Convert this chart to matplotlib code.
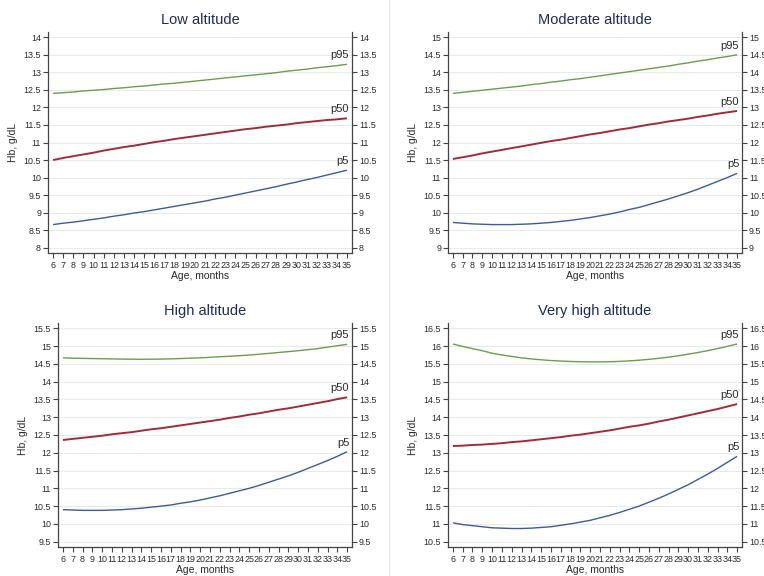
import matplotlib
matplotlib.use("Agg")
import matplotlib.pyplot as plt
from matplotlib.lines import Line2D

plt.rcParams['font.family'] = ['Liberation Sans', 'DejaVu Sans']

ages = list(range(6, 36))

titles = ["Low altitude", "Moderate altitude", "High altitude", "Very high altitude"]

low_p5 = [8.66, 8.70, 8.73, 8.77, 8.81, 8.85, 8.90, 8.94, 8.99, 9.03, 9.08, 9.13, 9.18, 9.23, 9.28,
          9.33, 9.39, 9.44, 9.50, 9.56, 9.62, 9.68, 9.74, 9.81, 9.87, 9.94, 10.00, 10.07, 10.14, 10.21]
low_p50 = [10.50, 10.56, 10.61, 10.66, 10.71, 10.77, 10.82, 10.87, 10.91, 10.96, 11.01, 11.05, 11.10, 11.14, 11.18,
           11.22, 11.26, 11.30, 11.34, 11.38, 11.41, 11.45, 11.48, 11.51, 11.55, 11.58, 11.61, 11.64, 11.66, 11.69]
low_p95 = [12.40, 12.42, 12.44, 12.47, 12.49, 12.51, 12.54, 12.56, 12.59, 12.61, 12.64, 12.67, 12.69, 12.72, 12.75,
           12.78, 12.81, 12.84, 12.87, 12.90, 12.93, 12.96, 12.99, 13.03, 13.06, 13.09, 13.13, 13.16, 13.19, 13.23]

mod_p5 = [9.72, 9.70, 9.68, 9.67, 9.66, 9.66, 9.66, 9.67, 9.68, 9.70, 9.72, 9.75, 9.78, 9.82, 9.86,
          9.91, 9.96, 10.02, 10.09, 10.15, 10.23, 10.31, 10.39, 10.48, 10.57, 10.67, 10.78, 10.89, 11.00, 11.12]
mod_p50 = [11.53, 11.58, 11.63, 11.69, 11.74, 11.79, 11.84, 11.89, 11.94, 11.99, 12.04, 12.08, 12.13, 12.18, 12.23,
           12.27, 12.32, 12.37, 12.41, 12.46, 12.51, 12.55, 12.60, 12.64, 12.68, 12.73, 12.77, 12.82, 12.86, 12.90]
mod_p95 = [13.40, 13.43, 13.46, 13.49, 13.52, 13.55, 13.58, 13.61, 13.65, 13.68, 13.72, 13.75, 13.79, 13.82, 13.86,
           13.90, 13.94, 13.98, 14.02, 14.06, 14.10, 14.14, 14.18, 14.23, 14.27, 14.32, 14.36, 14.41, 14.45, 14.50]

high_p5 = [10.40, 10.39, 10.38, 10.38, 10.38, 10.39, 10.40, 10.42, 10.44, 10.47, 10.50, 10.53, 10.58, 10.62, 10.67,
           10.73, 10.79, 10.86, 10.93, 11.00, 11.08, 11.17, 11.26, 11.35, 11.45, 11.56, 11.67, 11.78, 11.90, 12.03]
high_p50 = [12.36, 12.39, 12.42, 12.45, 12.48, 12.52, 12.55, 12.58, 12.62, 12.66, 12.69, 12.73, 12.77, 12.81, 12.85,
            12.89, 12.93, 12.98, 13.02, 13.07, 13.11, 13.16, 13.21, 13.25, 13.30, 13.35, 13.40, 13.45, 13.51, 13.56]
high_p95 = [14.67, 14.66, 14.655, 14.65, 14.645, 14.64, 14.635, 14.632, 14.63, 14.632, 14.635, 14.642, 14.65, 14.66, 14.67,
            14.685, 14.70, 14.715, 14.73, 14.75, 14.77, 14.795, 14.82, 14.845, 14.87, 14.90, 14.93, 14.97, 15.01, 15.05]

vhigh_p5 = [11.03, 10.98, 10.95, 10.92, 10.89, 10.88, 10.87, 10.87, 10.88, 10.90, 10.92, 10.96, 11.00, 11.05, 11.10,
            11.17, 11.24, 11.32, 11.41, 11.50, 11.61, 11.72, 11.84, 11.97, 12.10, 12.25, 12.40, 12.56, 12.73, 12.90]
vhigh_p50 = [13.19, 13.20, 13.22, 13.23, 13.25, 13.27, 13.30, 13.32, 13.35, 13.38, 13.41, 13.44, 13.48, 13.51, 13.55,
             13.59, 13.63, 13.68, 13.73, 13.77, 13.82, 13.88, 13.93, 13.99, 14.05, 14.11, 14.17, 14.23, 14.30, 14.37]
vhigh_p95 = [16.06, 15.99, 15.93, 15.87, 15.80, 15.75, 15.71, 15.67, 15.64, 15.615, 15.595, 15.58, 15.568, 15.56, 15.556,
             15.556, 15.56, 15.57, 15.584, 15.604, 15.628, 15.656, 15.69, 15.728, 15.772, 15.82, 15.872, 15.93, 15.992, 16.06]

p5_sets = [low_p5, mod_p5, high_p5, vhigh_p5]
p50_sets = [low_p50, mod_p50, high_p50, vhigh_p50]
p95_sets = [low_p95, mod_p95, high_p95, vhigh_p95]

ytick_lists = [
    [8, 8.5, 9, 9.5, 10, 10.5, 11, 11.5, 12, 12.5, 13, 13.5, 14],
    [9, 9.5, 10, 10.5, 11, 11.5, 12, 12.5, 13, 13.5, 14, 14.5, 15],
    [9.5, 10, 10.5, 11, 11.5, 12, 12.5, 13, 13.5, 14, 14.5, 15, 15.5],
    [10.5, 11, 11.5, 12, 12.5, 13, 13.5, 14, 14.5, 15, 15.5, 16, 16.5],
]

series_names = ["p5", "p50", "p95"]
colors = {"p5": "#3e5c94", "p50": "#a02c3a", "p95": "#6f9b50"}
widths = {"p5": 1.0, "p50": 1.4, "p95": 1.0}

W, H = 764, 576
fig = plt.figure(figsize=(W / 100, H / 100), dpi=100)

# faint separator between the left and right panels
fig.add_artist(Line2D([389 / W, 389 / W], [0, 1], transform=fig.transFigure, color='#e6e6e6', lw=0.8))

# pixel boxes (left, top, right, bottom)
boxes = [(48, 32, 352, 253), (448, 32, 742, 253), (58, 323, 352, 547), (448, 323, 742, 547)]

axis_col = "#444444"
text_col = "#2a2a2a"

def fmt(v):
    return ("%g" % v)

for i, (l, t, r, b) in enumerate(boxes):
    ax = fig.add_axes([l / W, 1 - b / H, (r - l) / W, (b - t) / H])
    yt = ytick_lists[i]
    data = {"p5": p5_sets[i], "p50": p50_sets[i], "p95": p95_sets[i]}
    for name in series_names:
        ax.plot(ages, data[name], color=colors[name], lw=widths[name], solid_capstyle='butt', zorder=3)
        ax.annotate(name, xy=(ages[-1], data[name][-1]), xytext=(1.5, 3), textcoords='offset points',
                    ha='right', va='bottom', fontsize=8, color=text_col)
    ax.set_xlim(5.5, 35.5)
    ax.set_ylim(yt[0] - 0.15, yt[-1] + 0.15)
    ax.set_xticks(ages)
    ax.set_xticklabels([str(a) for a in ages])
    ax.set_yticks(yt)
    ax.set_yticklabels([fmt(v) for v in yt])
    ax.grid(axis='y', color='#e4ebef', lw=0.7, zorder=0)
    ax.set_axisbelow(True)
    for s in ['left', 'right', 'bottom']:
        ax.spines[s].set_color(axis_col)
        ax.spines[s].set_linewidth(0.9)
    ax.spines['top'].set_visible(False)
    ax.tick_params(axis='y', which='both', left=True, right=True, labelleft=True, labelright=True,
                   direction='out', length=3.5, width=0.8, color=axis_col, labelsize=6.4,
                   labelcolor=text_col, pad=1.5)
    ax.tick_params(axis='x', direction='out', length=3.5, width=0.8, color=axis_col, labelsize=6.4,
                   labelcolor=text_col, pad=2)
    ax.set_xlabel("Age, months", fontsize=7.5, color=text_col, labelpad=1)
    ax.set_ylabel("Hb, g/dL", fontsize=7.5, color=text_col, labelpad=4)
    ax.set_title(titles[i], fontsize=10.5, color="#1f2b58", pad=6)

fig.savefig("out.png", dpi=100, facecolor='white')
